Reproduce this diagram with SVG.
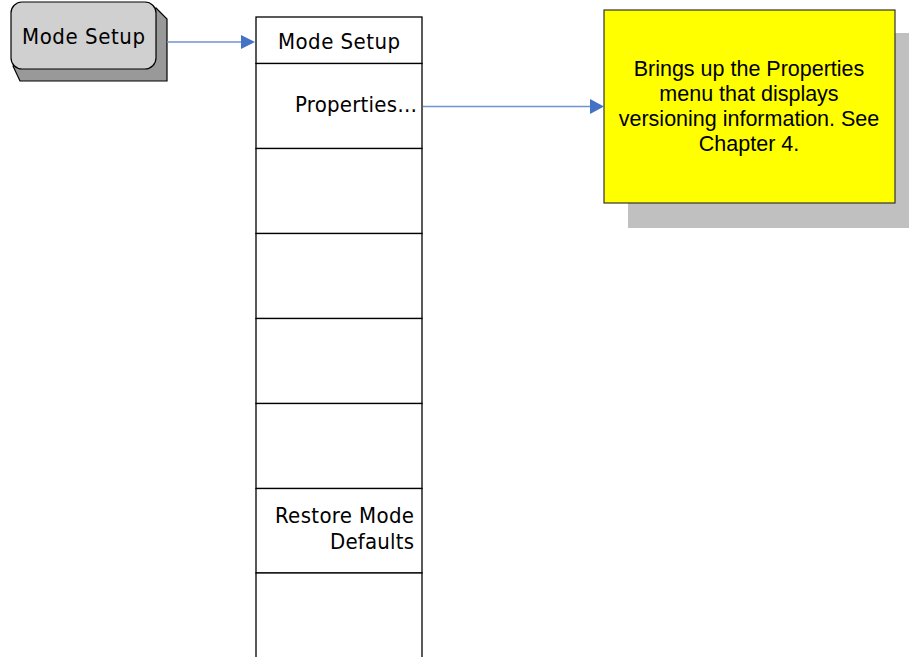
<svg xmlns="http://www.w3.org/2000/svg" width="909" height="657" viewBox="0 0 909 657">
<defs>
<style>
.key{font-family:"DejaVu Sans Condensed","DejaVu Sans",sans-serif;font-size:22px;fill:#000}
.note{font-family:"Liberation Sans",Arial,sans-serif;font-size:21.5px;fill:#000;text-anchor:middle}
.cell{fill:#fff;stroke:#000;stroke-width:1.3}
.conn{stroke:#6f93d0;stroke-width:1.3;fill:none}
.head{fill:#4472c4}
</style>
</defs>
<rect width="909" height="657" fill="#fff"/>
<g id="hardkey">
<polygon points="156,8 167,19 167,81 20,81 13,66" fill="#999" stroke="#000" stroke-width="1.2"/>
<rect x="11" y="2" width="145" height="67" rx="11" fill="#d0d0d0" stroke="#000" stroke-width="1.2"/>
<text class="key" x="22" y="43.5" textLength="123" lengthAdjust="spacing">Mode Setup</text>
</g>
<g id="menu">
<rect class="cell" x="256" y="17" width="166" height="46.5"/>
<text class="key" x="278" y="48.5" textLength="122" lengthAdjust="spacing">Mode Setup</text>
<rect class="cell" x="256" y="63.5" width="166" height="85"/>
<text class="key" x="295" y="112" textLength="122" lengthAdjust="spacing">Properties…</text>
<rect class="cell" x="256" y="148.5" width="166" height="85"/>
<rect class="cell" x="256" y="233.5" width="166" height="85"/>
<rect class="cell" x="256" y="318.5" width="166" height="85"/>
<rect class="cell" x="256" y="403.5" width="166" height="85"/>
<rect class="cell" x="256" y="488.5" width="166" height="84.5"/>
<text class="key" x="275" y="523" textLength="139" lengthAdjust="spacing">Restore Mode</text>
<text class="key" x="330" y="548.5" textLength="84" lengthAdjust="spacing">Defaults</text>
<rect class="cell" x="256" y="573" width="166" height="90"/>
</g>
<g id="note">
<rect x="628" y="33" width="291" height="195" fill="#c0c0c0"/>
<rect x="604" y="10" width="291" height="193" fill="#ffff00" stroke="#333" stroke-width="1.2"/>
<text class="note" x="749" y="75.5">Brings up the Properties</text>
<text class="note" x="749" y="100.5">menu that displays</text>
<text class="note" x="749" y="125.5">versioning information. See</text>
<text class="note" x="749" y="150.5">Chapter 4.</text>
</g>
<g id="connectors">
<line class="conn" x1="167" y1="42" x2="242" y2="42"/>
<polygon class="head" points="241,35 255,42 241,49"/>
<line class="conn" x1="423" y1="106.5" x2="591" y2="106.5"/>
<polygon class="head" points="590,99 604,106.5 590,114"/>
</g>
</svg>
